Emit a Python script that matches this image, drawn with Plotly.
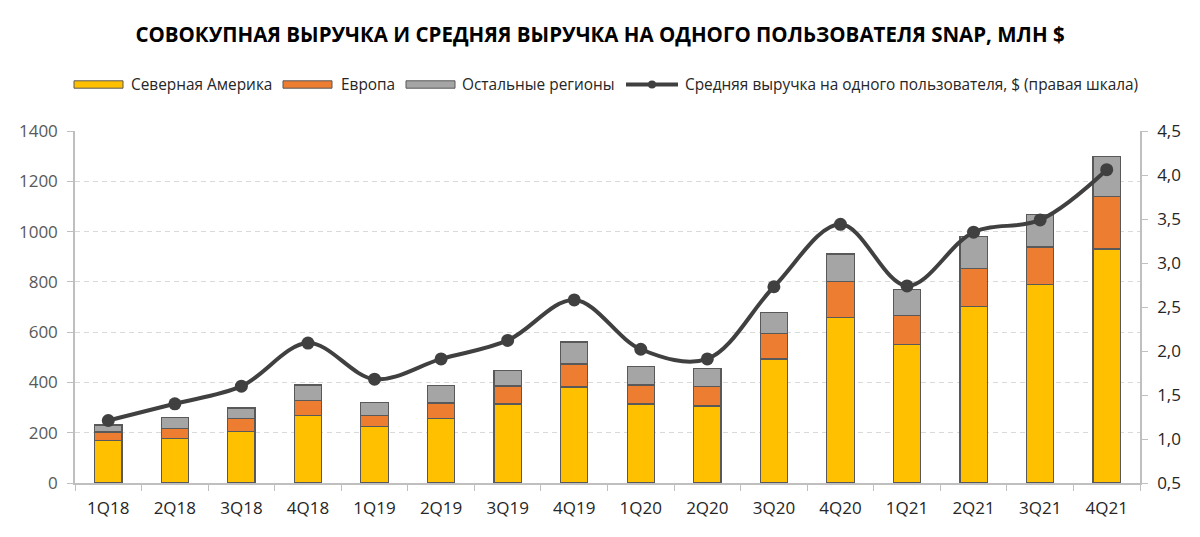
import plotly.graph_objects as go

quarters = ["1Q18", "2Q18", "3Q18", "4Q18", "1Q19", "2Q19", "3Q19", "4Q19",
            "1Q20", "2Q20", "3Q20", "4Q20", "1Q21", "2Q21", "3Q21", "4Q21"]
north_america = [169, 176, 205, 268, 225, 258, 314, 382, 314, 306, 493, 659, 551, 702, 788, 931]
europe = [34, 40, 51, 61, 45, 60, 72, 91, 76, 79, 101, 141, 116, 151, 151, 210]
rest_of_world = [28, 46, 42, 61, 50, 70, 60, 88, 72, 69, 85, 111, 103, 129, 128, 159]
arpu = [1.21, 1.40, 1.60, 2.09, 1.68, 1.91, 2.12, 2.58, 2.02, 1.91, 2.73, 3.44, 2.74, 3.35, 3.49, 4.06]

left_ticks = [0, 200, 400, 600, 800, 1000, 1200, 1400]
right_ticks = [0.5, 1.0, 1.5, 2.0, 2.5, 3.0, 3.5, 4.0, 4.5]
right_tick_labels = ["0,5", "1,0", "1,5", "2,0", "2,5", "3,0", "3,5", "4,0", "4,5"]

series_names = ["Северная Америка", "Европа", "Остальные регионы",
                "Средняя выручка на одного пользователя, $ (правая шкала)"]
series_colors = ["#FFC000", "#ED7D31", "#A5A5A5", "#404040"]

FONT = "Open Sans"
TXT = "#262626"
YTXT = "#595959"
OUTLINE = "#595959"
W, H = 1200, 537
ML, MR, MT, MB = 75, 60, 131, 54

outline = dict(color=OUTLINE, width=1.2)

fig = go.Figure()
for vals, name, col in zip([north_america, europe, rest_of_world], series_names[:3], series_colors[:3]):
    fig.add_trace(go.Bar(x=quarters, y=vals, name=name, showlegend=False,
                         marker=dict(color=col, line=outline)))
fig.add_trace(go.Scatter(x=quarters, y=arpu, yaxis="y2", mode="lines+markers",
                         name=series_names[3], showlegend=False,
                         line=dict(color=series_colors[3], width=4, shape="spline", smoothing=1),
                         marker=dict(color=series_colors[3], size=13)))

# custom legend (wide swatches like the reference), placed in paper coordinates
pw, ph = W - ML - MR, H - MT - MB
def px_x(p):
    return (p - ML) / pw
def px_y(p):
    return (H - MB - p) / ph

legend_y = 84.5
swatches = [(74, 123, 129), (283, 332, 339), (406, 455, 460), (626, 678, 683)]
shapes = []
annotations = []
for i, ((x0, x1, tx), name, col) in enumerate(zip(swatches, series_names, series_colors)):
    if i < 3:
        shapes.append(dict(type="rect", xref="paper", yref="paper",
                           x0=px_x(x0), x1=px_x(x1), y0=px_y(legend_y + 3.7), y1=px_y(legend_y - 3.7),
                           fillcolor=col, line=dict(color=OUTLINE, width=1)))
    else:
        shapes.append(dict(type="line", xref="paper", yref="paper",
                           x0=px_x(x0), x1=px_x(x1), y0=px_y(legend_y), y1=px_y(legend_y),
                           line=dict(color=col, width=4)))
        cx = (x0 + x1) / 2
        shapes.append(dict(type="circle", xref="paper", yref="paper",
                           x0=px_x(cx - 4), x1=px_x(cx + 4), y0=px_y(legend_y + 4), y1=px_y(legend_y - 4),
                           fillcolor=col, line=dict(color=col, width=0)))
    annotations.append(dict(text=name, xref="paper", yref="paper", x=px_x(tx), y=px_y(legend_y),
                            xanchor="left", yanchor="middle", showarrow=False,
                            font=dict(family=FONT, size=15.4, color=TXT)))

fig.update_layout(
    width=W, height=H,
    barmode="stack", bargap=0.59,
    plot_bgcolor="white", paper_bgcolor="white",
    margin=dict(l=ML, r=MR, t=MT, b=MB, autoexpand=False),
    font=dict(family=FONT, size=17, color=TXT),
    showlegend=False,
    shapes=shapes,
    annotations=annotations,
    title=dict(text="<b>СОВОКУПНАЯ ВЫРУЧКА И СРЕДНЯЯ ВЫРУЧКА НА ОДНОГО ПОЛЬЗОВАТЕЛЯ SNAP, МЛН $</b>",
               x=0.5, xanchor="center", y=1 - 35 / H, yanchor="middle",
               font=dict(family=FONT, size=20.5, color="#000000")),
    xaxis=dict(type="category", range=[-0.5, len(quarters) - 0.5],
               showline=True, linecolor="#BFBFBF", linewidth=1.5,
               ticks="outside", tickson="boundaries", ticklen=6, tickcolor="#BFBFBF",
               showgrid=False, tickfont=dict(size=17, color=TXT), ticklabelstandoff=9),
    yaxis=dict(range=[0, 1400], tickvals=left_ticks, showline=True, linecolor="#BFBFBF",
               linewidth=1.5, ticks="outside", ticklen=6, tickcolor="#BFBFBF",
               showgrid=True, gridcolor="#D9D9D9", griddash="5px,4px", gridwidth=1,
               zeroline=False, tickfont=dict(size=17, color=YTXT), ticklabelstandoff=6),
    yaxis2=dict(range=[0.5, 4.5], tickvals=right_ticks, ticktext=right_tick_labels,
                overlaying="y", side="right", showline=True, linecolor="#BFBFBF",
                linewidth=1.5, ticks="outside", ticklen=6, tickcolor="#BFBFBF",
                showgrid=False, zeroline=False, tickfont=dict(size=17, color=TXT),
                ticklabelstandoff=6),
)

fig.write_html("out.html", config={"displayModeBar": False},
               post_script="document.body.style.margin='0';")
